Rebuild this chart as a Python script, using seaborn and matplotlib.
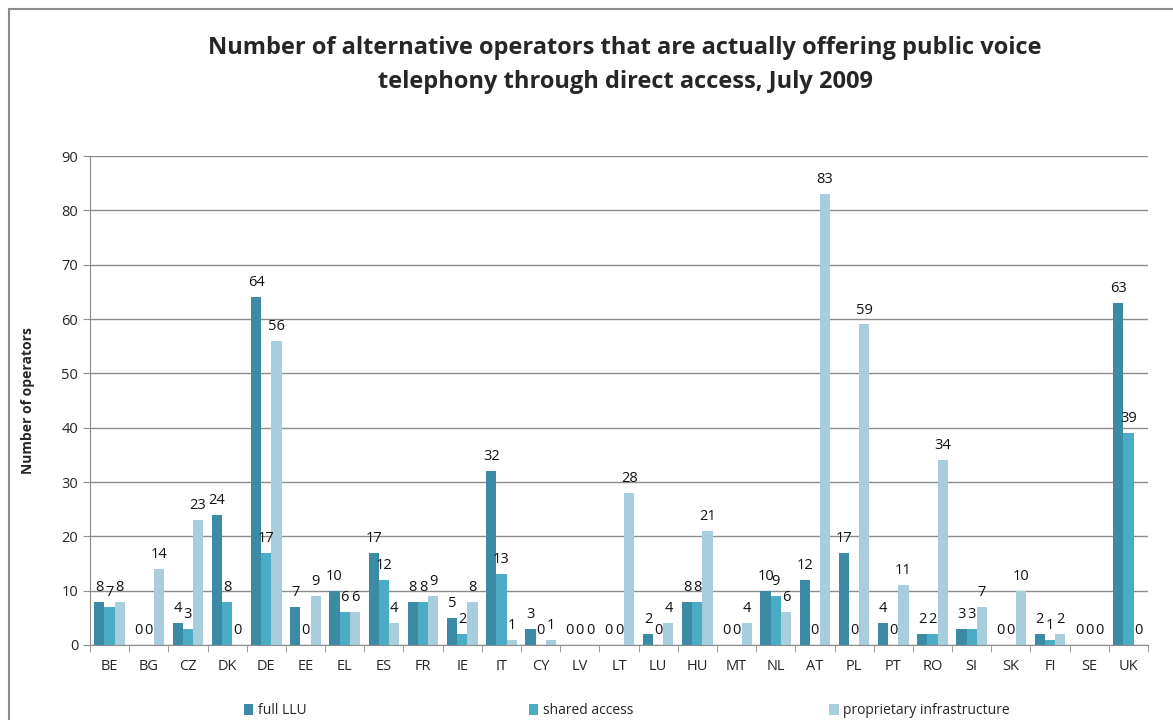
import numpy as np
import pandas as pd
import seaborn as sns
import matplotlib.pyplot as plt
from matplotlib.patches import Rectangle

countries = ['BE', 'BG', 'CZ', 'DK', 'DE', 'EE', 'EL', 'ES', 'FR', 'IE', 'IT', 'CY', 'LV', 'LT',
             'LU', 'HU', 'MT', 'NL', 'AT', 'PL', 'PT', 'RO', 'SI', 'SK', 'FI', 'SE', 'UK']
full_llu = [8, 0, 4, 24, 64, 7, 10, 17, 8, 5, 32, 3, 0, 0, 2, 8, 0, 10, 12, 17, 4, 2, 3, 0, 2, 0, 63]
shared_access = [7, 0, 3, 8, 17, 0, 6, 12, 8, 2, 13, 0, 0, 0, 0, 8, 0, 9, 0, 0, 0, 2, 3, 0, 1, 0, 39]
proprietary = [8, 14, 23, 0, 56, 9, 6, 4, 9, 8, 1, 1, 0, 28, 4, 21, 4, 6, 83, 59, 11, 34, 7, 10, 2, 0, 0]
series = ['full LLU', 'shared access', 'proprietary infrastructure']
colors = ['#3B8BA4', '#4BACC6', '#A8CEDD']

df = pd.DataFrame({'country': countries, series[0]: full_llu,
                   series[1]: shared_access, series[2]: proprietary})
long_df = df.melt(id_vars='country', var_name='type', value_name='operators')

sns.set_style('white')
plt.rcParams['font.family'] = ['Open Sans', 'DejaVu Sans']

fig = plt.figure(figsize=(11.73, 7.2), dpi=100)
ax = fig.add_axes([0.0767, 0.1042, 0.902, 0.679])

sns.barplot(data=long_df, x='country', y='operators', hue='type', hue_order=series,
            palette=colors, order=countries, width=0.78, saturation=1, linewidth=0, ax=ax)

for cont in ax.containers:
    ax.bar_label(cont, fmt='%d', padding=5, fontsize=10.5, color='#111111')

ax.set_ylim(0, 90)
ax.set_yticks(range(0, 91, 10))
ax.set_xlim(-0.5, len(countries) - 0.5)
ax.yaxis.grid(True, color='#8c8c8c', linewidth=1)
ax.set_axisbelow(True)
for s in ['top', 'right']:
    ax.spines[s].set_visible(False)
for s in ['left', 'bottom']:
    ax.spines[s].set_color('#8c8c8c')
ax.tick_params(axis='y', length=5, color='#8c8c8c', labelsize=10.5, direction='out', left=True)
ax.tick_params(axis='x', which='major', length=0, labelsize=10.5, pad=10)
ax.set_xticks(np.arange(-0.5, len(countries), 1), minor=True)
ax.tick_params(axis='x', which='minor', length=5, color='#8c8c8c', direction='out', bottom=True)
ax.set_xlabel('')
ax.set_ylabel('Number of operators', fontsize=10, fontweight='bold', labelpad=19)

handles, labels = ax.get_legend_handles_labels()
ax.get_legend().remove()
for h, lab, xpos in zip(handles, labels, [0.203, 0.446, 0.702]):
    fig.legend(handles=[h], labels=[lab], loc='center left', bbox_to_anchor=(xpos, 0.013),
               frameon=False, fontsize=10, handlelength=0.7, handleheight=0.9,
               handletextpad=0.3, borderaxespad=0)

fig.text(0.533, 0.934, 'Number of alternative operators that are actually offering public voice',
         ha='center', va='center', fontsize=17, fontweight='bold')
fig.text(0.533, 0.886, 'telephony through direct access, July 2009',
         ha='center', va='center', fontsize=17, fontweight='bold')

fig.patches.append(Rectangle((0.008, -0.05), 1.2, 1.037, transform=fig.transFigure,
                             fill=False, edgecolor='#8c8c8c', linewidth=1.5))

fig.savefig('out.png', dpi=100)
